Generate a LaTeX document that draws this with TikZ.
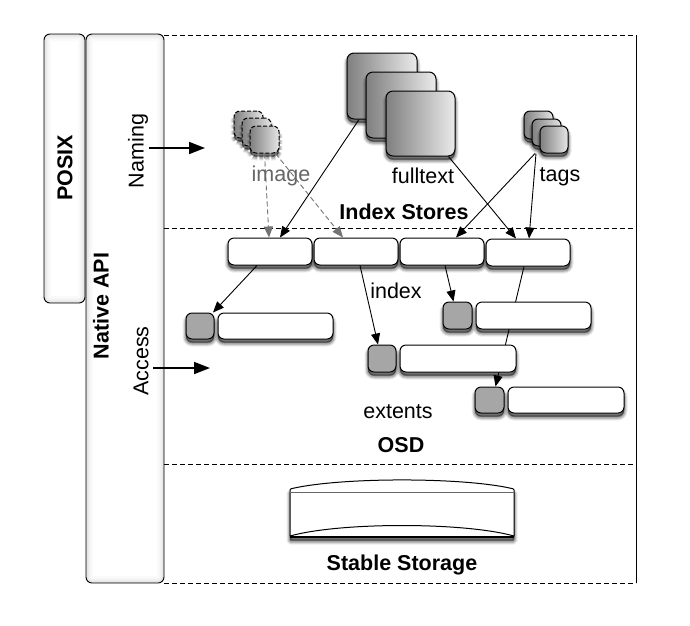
\documentclass[tikz,border=0pt]{standalone}
\usepackage{fontspec}
\setmainfont{Liberation Sans}
\usetikzlibrary{arrows.meta,shadows,backgrounds,calc}
\tikzset{
  softshadow/.style={
    general shadow={fill=black,draw=black,line width=7pt,opacity=.07,shadow xshift=0pt,shadow yshift=-4pt},
    general shadow={fill=black,draw=black,line width=5pt,opacity=.12,shadow xshift=0pt,shadow yshift=-4pt},
    general shadow={fill=black,draw=black,line width=3pt,opacity=.17,shadow xshift=0pt,shadow yshift=-4pt},
    general shadow={fill=black,draw=black,line width=1pt,opacity=.25,shadow xshift=0pt,shadow yshift=-3pt}},
  basebox/.style={draw=black,line width=1pt,rounded corners=6pt,inner sep=0pt,softshadow},
  whitebox/.style={basebox,fill=white},
  graybox/.style={basebox,fill=black!35},
  bigstack/.style={basebox,rounded corners=7pt,left color=black!50,right color=black!8},
  smallstack/.style={basebox,left color=black!50,right color=black!10},
  dashstack/.style={smallstack,dashed,dash pattern=on 4pt off 2pt},
  sidebar/.style={draw=black,line width=.9pt,fill=white,rounded corners=6pt,inner sep=0pt,
    path picture={
      \foreach \lw/\op in {14pt/.02,9pt/.03,5pt/.04,2pt/.05}{
        \draw[line width=\lw,black,opacity=\op,rounded corners=6pt]
          (path picture bounding box.south west) rectangle (path picture bounding box.north east);}}},
  layerline/.style={line width=.8pt,dash pattern=on 5pt off 3pt},
  conn/.style={line width=.9pt,-{Triangle[length=11pt,width=9pt]}},
  gconn/.style={line width=.9pt,black!55,dash pattern=on 5pt off 3pt,-{Triangle[length=11pt,width=9pt,black!55]}},
  bigarrow/.style={line width=1.7pt,-{Triangle[length=16pt,width=12pt]}},
  lab/.style={font=\fontsize{21.5}{25}\selectfont,inner sep=0pt},
  blab/.style={font=\fontsize{21.5}{25}\selectfont\bfseries,inner sep=0pt},
}
\newcommand\bx[6]{%
  \pgfmathsetmacro\bxw{#5-#3}\pgfmathsetmacro\bxh{#6-#4}%
  \node[#2,minimum width=\bxw pt,minimum height=\bxh pt] (#1) at ({(#3+#5)/2},{(#4+#6)/2}) {};}
\begin{document}
\begin{tikzpicture}[x=1pt,y=-1pt]
\useasboundingbox (0,0) rectangle (690,625);
% side bars
\bx{posix}{sidebar}{44}{34}{85}{303}
\bx{native}{sidebar}{86}{34}{164}{583}
% layer lines
\coordinate (tl) at (164,35);   \coordinate (tr) at (636,35);
\coordinate (al) at (164,228);  \coordinate (ar) at (636,228);
\coordinate (ol) at (164,464);  \coordinate (or) at (636,464);
\coordinate (sl) at (164,583);  \coordinate (sr) at (636,583);
\draw[layerline] (tl) -- (tr);
\draw[layerline] (al) -- (ar);
\draw[layerline] (ol) -- (or);
\draw[layerline] (sl) -- (sr);
\draw[line width=.9pt] (tr) -- (sr);
% stores
\bx{f1}{bigstack}{347}{53}{417}{119}
\bx{f2}{bigstack}{366}{72}{436}{138}
\bx{f3}{bigstack}{386}{91}{455}{156}
\bx{i1}{dashstack}{234}{111}{263}{138}
\bx{i2}{dashstack}{242}{118}{271}{146}
\bx{i3}{dashstack}{250}{126}{279}{153}
\bx{t1}{smallstack}{524}{111}{553}{139}
\bx{t2}{smallstack}{532}{119}{561}{146}
\bx{t3}{smallstack}{540}{126}{568}{153}
% index row
\bx{r1}{whitebox}{228}{238}{312}{265}
\bx{r2}{whitebox}{314}{238}{398}{265}
\bx{r3}{whitebox}{400}{238}{484}{265}
\bx{r4}{whitebox}{486}{239}{570}{266}
% extents
\bx{ag}{graybox}{186}{313}{214}{339}
\bx{aw}{whitebox}{218}{313}{333}{339}
\bx{bg}{graybox}{443}{302}{472}{329}
\bx{bw}{whitebox}{476}{302}{591}{329}
\bx{cg}{graybox}{368}{345}{396}{372}
\bx{cw}{whitebox}{400}{345}{516}{372}
\bx{dg}{graybox}{475}{387}{504}{413}
\bx{dw}{whitebox}{508}{387}{624}{413}
% stable storage
\draw[line width=1pt,fill=white,rounded corners=1pt,softshadow]
  (290,489) .. controls (340,477) and (464,477) .. (514,489)
  -- (514,537) -- (290,537) -- cycle;
\draw[line width=.8pt,black!60] (290,492) -- (514,492);
\draw[line width=1pt] (290,536) .. controls (340,522) and (464,522) .. (514,536);
\draw[line width=1.6pt] (290,537) -- (514,537);
% connector behind the boxes
\begin{scope}[on background layer]
\fill[white] (0,0) rectangle (690,625);
\draw[conn] ([xshift=-4pt]r4.south) -- ([xshift=6pt]dg.north);
\end{scope}
% connectors
\draw[gconn] ([xshift=0pt]i3.south) -- ([xshift=-1pt]r1.north);
\draw[gconn] ([xshift=11pt]i3.south) -- ([xshift=-13pt]r2.north);
\draw[conn] ([xshift=-23pt]f1.south) -- ([xshift=10pt]r1.north);
\draw[conn] ([xshift=28pt]f3.south) -- ([xshift=-12pt]r4.north);
\draw[conn] ([xshift=-19pt]t3.south) -- ([xshift=14pt]r3.north);
\draw[conn] ([xshift=-18pt]t3.south) -- ([xshift=1pt]r4.north);
\draw[conn] ([xshift=-13pt]r1.south) -- ([xshift=13pt]ag.north);
\draw[conn] ([xshift=4pt]r2.south) -- ([xshift=-4pt]cg.north);
\draw[conn] ([xshift=3pt]r3.south) -- ([xshift=-4pt]bg.north);
% access arrows
\coordinate (na) at (149,148); \coordinate (nb) at (205,148);
\coordinate (aa) at (153,368); \coordinate (ab) at (210,368);
\draw[bigarrow] (na) -- (nb);
\draw[bigarrow] (aa) -- (ab);
% labels
\node[blab,rotate=90] (posixl) at (65,168) {POSIX};
\node[blab,rotate=90] (nativel) at (101,306) {Native API};
\node[lab,rotate=90] (naming) at (138,151) {Naming};
\node[lab,rotate=90] (access) at (141,361) {Access};
\node[lab,text=black!60] (imagel) at (281,176) {image};
\node[lab] (fulltext) at (423,176) {fulltext};
\node[lab] (tags) at (560,177) {tags};
\node[blab] (indexstores) at (404,212) {Index Stores};
\node[lab] (index) at (396,291) {index};
\node[lab] (extents) at (398,412) {extents};
\node[blab] (osd) at (401,445) {OSD};
\node[blab] (stable) at (402,565) {Stable Storage};
\end{tikzpicture}
\end{document}
